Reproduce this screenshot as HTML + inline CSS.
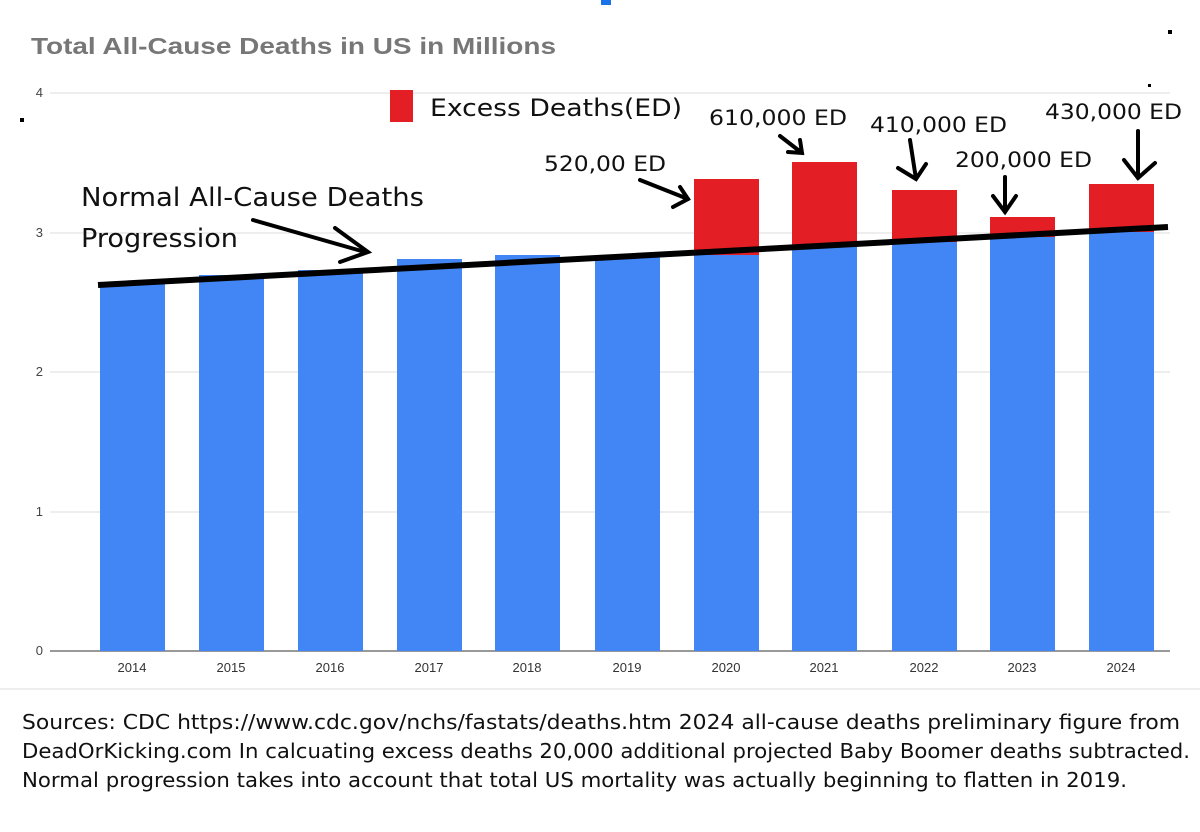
<!DOCTYPE html>
<html><head><style>
body{margin:0;background:#fff;}
svg{display:block;}
</style></head><body>
<svg width="1200" height="832" xmlns="http://www.w3.org/2000/svg" font-family="Liberation Sans, sans-serif">
<rect width="1200" height="832" fill="#fff"/>
<rect x="601" y="0" width="10" height="5" fill="#1a73e8"/>
<text x="31" y="54" font-size="23" font-weight="bold" fill="#777" textLength="525" lengthAdjust="spacingAndGlyphs">Total All-Cause Deaths in US in Millions</text>
<g stroke="#ddd" stroke-width="1">
<line x1="50" y1="93" x2="1170" y2="93"/>
<line x1="50" y1="233" x2="1170" y2="233"/>
<line x1="50" y1="372" x2="1170" y2="372"/>
<line x1="50" y1="512" x2="1170" y2="512"/>
</g>
<line x1="50" y1="651" x2="1170" y2="651" stroke="#333" stroke-width="1"/>
<g font-size="13" fill="#444" text-anchor="end">
<text x="43" y="97">4</text><text x="43" y="237">3</text><text x="43" y="376">2</text><text x="43" y="516">1</text><text x="43" y="655">0</text>
</g>
<g fill="#4285f4">
<rect x="100" y="283" width="65" height="368"/>
<rect x="199" y="275" width="65" height="376"/>
<rect x="298" y="270" width="65" height="381"/>
<rect x="397" y="259" width="65" height="392"/>
<rect x="495" y="255" width="65" height="396"/>
<rect x="595" y="257" width="65" height="394"/>
<rect x="694" y="255" width="65" height="396"/>
<rect x="792" y="247" width="65" height="404"/>
<rect x="892" y="242" width="65" height="409"/>
<rect x="990" y="237" width="65" height="414"/>
<rect x="1089" y="231" width="65" height="420"/>
</g>
<g fill="#e31e24">
<rect x="694" y="179" width="65" height="76"/>
<rect x="792" y="162" width="65" height="85"/>
<rect x="892" y="190" width="65" height="52"/>
<rect x="990" y="217" width="65" height="20"/>
<rect x="1089" y="184" width="65" height="48"/>
</g>
<line x1="98" y1="285" x2="1168" y2="227" stroke="#000" stroke-width="6"/>
<g font-size="13" fill="#333" text-anchor="middle">
<text x="132" y="672">2014</text><text x="231" y="672">2015</text><text x="330" y="672">2016</text><text x="429" y="672">2017</text><text x="527" y="672">2018</text><text x="627" y="672">2019</text><text x="726" y="672">2020</text><text x="824" y="672">2021</text><text x="924" y="672">2022</text><text x="1022" y="672">2023</text><text x="1121" y="672">2024</text>
</g>
<rect x="390" y="90" width="23" height="32" fill="#e31e24"/>
<g font-family="DejaVu Sans, sans-serif" fill="#111" lengthAdjust="spacingAndGlyphs">
<text x="430" y="116" font-size="24" textLength="252" lengthAdjust="spacingAndGlyphs">Excess Deaths(ED)</text>
<text x="81" y="206" font-size="26" textLength="343" lengthAdjust="spacingAndGlyphs">Normal All-Cause Deaths</text>
<text x="81" y="247" font-size="26" textLength="157" lengthAdjust="spacingAndGlyphs">Progression</text>
<text x="544" y="171" font-size="21" textLength="122" lengthAdjust="spacingAndGlyphs">520,00 ED</text>
<text x="709" y="125" font-size="21" textLength="138" lengthAdjust="spacingAndGlyphs">610,000 ED</text>
<text x="870" y="132" font-size="21" textLength="137" lengthAdjust="spacingAndGlyphs">410,000 ED</text>
<text x="955" y="167" font-size="21" textLength="137" lengthAdjust="spacingAndGlyphs">200,000 ED</text>
<text x="1045" y="119" font-size="21" textLength="137" lengthAdjust="spacingAndGlyphs">430,000 ED</text>
</g>
<g stroke="#000" stroke-width="4" fill="none" stroke-linecap="round">
<path d="M253 220 L365 252 M335 228 L368 252 L340 262"/>
<path d="M640 180 L688 199 M680 187 L688 199 L673 207"/>
<path d="M780 136 L802 153 M800 140 L802 153 L788 152"/>
<path d="M910 140 L916 179 M898 168 L916 179 L926 164"/>
<path d="M1005 177 L1005 212 M993 196 L1005 212 L1016 196"/>
<path d="M1138 131 L1138 178 M1124 160 L1138 178 L1155 163"/>
</g>
<rect x="20" y="118" width="4" height="4" fill="#000"/>
<rect x="1168" y="30" width="4" height="4" fill="#000"/>
<rect x="1148" y="84" width="3" height="3" fill="#000"/>
<line x1="0" y1="689" x2="1200" y2="689" stroke="#ddd"/>
<g font-family="DejaVu Sans, sans-serif" font-size="20" fill="#111">
<text x="22" y="729" textLength="1158" lengthAdjust="spacingAndGlyphs">Sources: CDC https://www.cdc.gov/nchs/fastats/deaths.htm  2024 all-cause deaths preliminary figure from</text>
<text x="22" y="758" textLength="1168" lengthAdjust="spacingAndGlyphs">DeadOrKicking.com  In calcuating excess deaths 20,000 additional projected Baby Boomer deaths subtracted.</text>
<text x="22" y="787" textLength="1105" lengthAdjust="spacingAndGlyphs">Normal progression takes into account that total US mortality was actually beginning to flatten in 2019.</text>
</g>
</svg>
</body></html>
